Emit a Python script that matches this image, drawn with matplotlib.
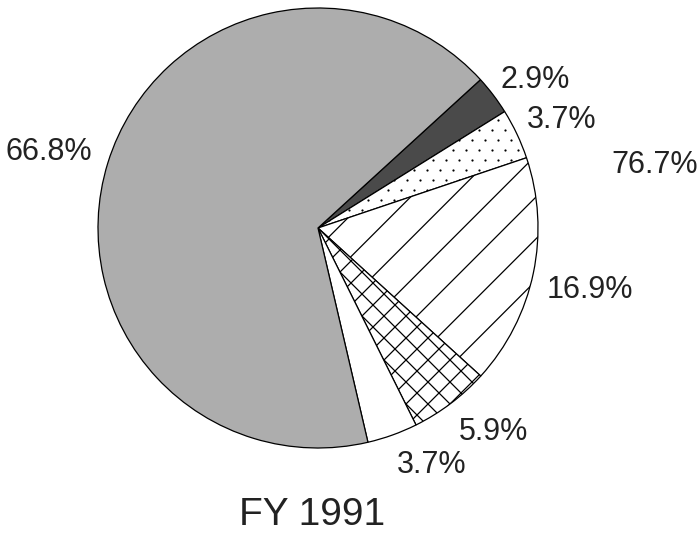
import matplotlib
matplotlib.use('Agg')
import matplotlib.pyplot as plt
import numpy as np

plt.rcParams['font.family'] = ['Liberation Sans', 'DejaVu Sans']

# shares, clockwise from the top-right wedge
shares = [2.9, 3.7, 16.9, 5.9, 3.7, 66.8]
labels = ['2.9%', '3.7%', '16.9%', '5.9%', '3.7%', '66.8%']
extra_label = '76.7%'
title = 'FY 1991'

colors = ['#4a4a4a', 'white', 'white', 'white', 'white', '#adadad']

# pie centre / radius in pixels (700x535 canvas)
cx, cy, r_px = 318, 228, 220
W, H = 700, 535


def px2d(px, py):
    return (px - cx) / r_px, (cy - py) / r_px


fig = plt.figure(figsize=(7, 5.35), dpi=100)
ax = fig.add_axes([0, 0, 1, 1])

wedges, _ = ax.pie(shares, colors=colors, startangle=42.4, counterclock=False,
                   wedgeprops=dict(edgecolor='k', linewidth=0.9))

# small staggered dots
dx, dy = 13 / r_px, 10 / r_px
for i, yy in enumerate(np.arange(-1.1, 1.1, dy)):
    xx = np.arange(-1.1, 1.1, dx) + (dx / 2 if i % 2 else 0)
    ln, = ax.plot(xx, np.full_like(xx, yy), ls='none', marker='o', ms=1.6,
                  mfc='k', mec='none')
    ln.set_clip_path(wedges[1])

# single diagonal hatch (sparse)
t = np.array([-1.3, 1.3])
for c in np.arange(-2.0, 2.0, 0.19):
    ln, = ax.plot(c + t, t, color='k', lw=0.9)
    ln.set_clip_path(wedges[2])

# cross hatch
for c in np.arange(-2.0, 2.0, 0.1):
    ln, = ax.plot(c + t, t, color='k', lw=0.9)
    ln.set_clip_path(wedges[3])
    ln, = ax.plot(c - t, t, color='k', lw=0.9)
    ln.set_clip_path(wedges[3])

# label placement (pixel centre x, baseline y)
label_pos = [(535, 88), (562, 128), (590, 298), (494, 440), (432, 473), (49, 160)]
for lab, (px, py) in zip(labels, label_pos):
    x, y = px2d(px, py)
    ax.text(x, y, lab, ha='center', va='baseline', fontsize=22, color='#222222')

x, y = px2d(655, 173)
ax.text(x, y, extra_label, ha='center', va='baseline', fontsize=22, color='#222222')

x, y = px2d(312, 525)
ax.text(x, y, title, ha='center', va='baseline', fontsize=28, color='#222222')

x0, y1 = px2d(0, 0)
x1, y0 = px2d(W, H)
ax.set_xlim(x0, x1)
ax.set_ylim(y0, y1)
ax.set_aspect('auto')
ax.axis('off')

fig.savefig('out.png', dpi=100)
